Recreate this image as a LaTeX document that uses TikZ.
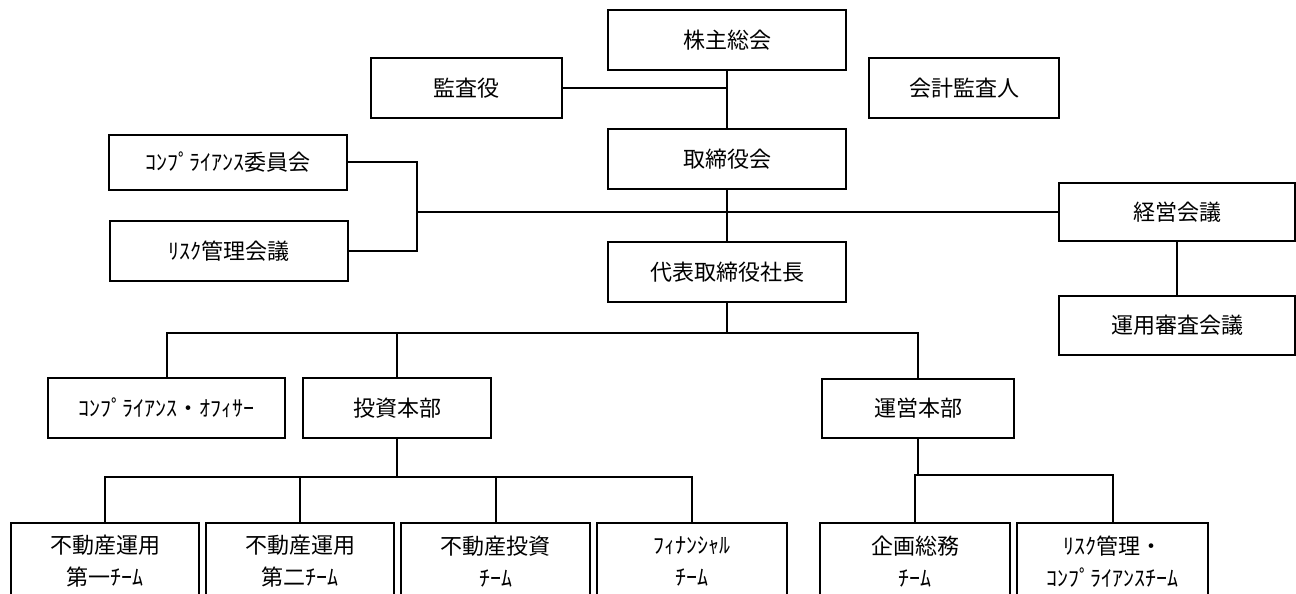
\documentclass[tikz,border=0pt]{standalone}
\usepackage{fontspec}
\newfontfamily\jp{Noto Sans CJK JP}
\begin{document}
\begin{tikzpicture}[x=1pt,y=-1pt,
  box/.style={draw, line width=2pt, inner sep=0pt, align=center,
    font=\jp\fontsize{22}{32}\selectfont},
  conn/.style={line width=2pt}]
\useasboundingbox (0,0) rectangle (1296,594);
\fill[white] (0,0) rectangle (1296,594);
\clip (0,0) rectangle (1296,594);

% top column
\node[box, minimum width=238pt, minimum height=60pt] (kabu) at (727,40) {株主総会};
\node[box, minimum width=191pt, minimum height=59pt] (kansa) at (466.5,88) {監査役};
\node[box, minimum width=190pt, minimum height=59pt] (kaikei) at (964,88) {会計監査人};
\node[box, minimum width=238pt, minimum height=60pt] (tori) at (727,159) {取締役会};
\node[box, minimum width=238pt, minimum height=55pt] (compI) at (228,162) {ｺﾝﾌﾟﾗｲｱﾝｽ委員会};
\node[box, minimum width=238pt, minimum height=60pt] (risk) at (229,251) {ﾘｽｸ管理会議};
\node[box, minimum width=236pt, minimum height=58pt] (keiei) at (1177,212) {経営会議};
\node[box, minimum width=238pt, minimum height=60pt] (daihyo) at (727,272) {代表取締役社長};
\node[box, minimum width=236pt, minimum height=59pt] (unyo) at (1177,325) {運用審査会議};

% middle row
\node[box, minimum width=237pt, minimum height=60pt] (compO) at (166.5,408) {ｺﾝﾌﾟﾗｲｱﾝｽ・ｵﾌｨｻｰ};
\node[box, minimum width=188pt, minimum height=60pt] (toushi) at (397,408) {投資本部};
\node[box, minimum width=192pt, minimum height=59pt] (unei) at (918,408) {運営本部};

% bottom row
\node[box, minimum width=188pt, minimum height=77pt] (b1) at (105,561.5) {不動産運用\\第一ﾁｰﾑ};
\node[box, minimum width=188pt, minimum height=77pt] (b2) at (300,561.5) {不動産運用\\第二ﾁｰﾑ};
\node[box, minimum width=189pt, minimum height=77pt] (b3) at (495.5,561.5) {不動産投資\\ﾁｰﾑ};
\node[box, minimum width=190pt, minimum height=77pt] (b4) at (692,561.5) {ﾌｨﾅﾝｼｬﾙ\\ﾁｰﾑ};
\node[box, minimum width=190pt, minimum height=77pt] (b5) at (915,561.5) {企画総務\\ﾁｰﾑ};
\node[box, minimum width=191pt, minimum height=77pt] (b6) at (1112.5,561.5) {ﾘｽｸ管理・\\ｺﾝﾌﾟﾗｲｱﾝｽﾁｰﾑ};

% connectors
\coordinate (lb) at (417,212);
\coordinate (dj) at (727,333);
\coordinate (tj) at (397,477);
\coordinate (uj) at (918,475);

\draw[conn] (kabu.south) -- (tori.north);
\draw[conn] (kansa.east) -- (kansa.east -| kabu.south);
\draw[conn] (tori.south) -- (daihyo.north);
\draw[conn] (compI.east) -| (lb) |- (risk.east);
\draw[conn] (lb) -- (keiei.west);
\draw[conn] (keiei.south) -- (unyo.north);

\draw[conn] (daihyo.south) -- (dj);
\draw[conn] (compO.north) |- (dj) -| (unei.north);
\draw[conn] (toushi.north) -- (toushi.north |- dj);

\draw[conn] (toushi.south) -- (tj);
\draw[conn] (b1.north) |- (tj) -| (b4.north);
\draw[conn] (b2.north) -- (b2.north |- tj);
\draw[conn] (b3.north) -- (b3.north |- tj);

\draw[conn] (unei.south) -- (uj);
\draw[conn] (b5.north) |- (uj) -| (b6.north);
\end{tikzpicture}
\end{document}
